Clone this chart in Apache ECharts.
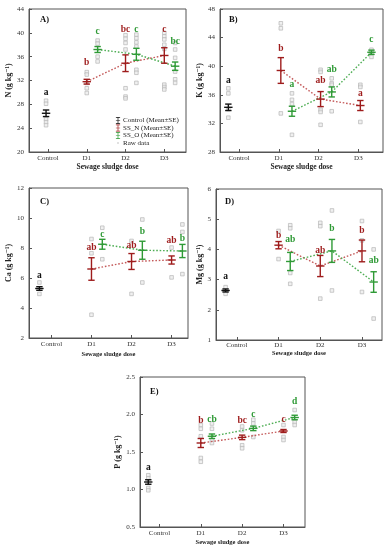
<!DOCTYPE html>
<html><head><meta charset="utf-8">
<script src="https://cdn.jsdelivr.net/npm/echarts@6/dist/echarts.min.js"></script>
<style>html,body{margin:0;padding:0;background:#fff}#c{width:386px;height:550px}</style>
</head><body><div id="c"></div>
<script>
// ---------- DATA ----------
const categories = ['Control', 'D1', 'D2', 'D3'];
const legendNames = ['Control (Mean±SE)', 'SS_N (Mean±SE)', 'SS_O (Mean±SE)', 'Raw data'];

// A) N
const nCtrlMean = [26.5], nCtrlSE = [0.55], nCtrlRaw = [28.6, 28.1, 25.5, 25.0, 24.5];
const nCtrlLetter = ['a'], nCtrlLetterY = [30.0];
const nSSNMean = [31.8, 34.9, 36.2], nSSNSE = [0.4, 1.4, 1.3];
const nSSNRaw = [[33.4, 33.0, 31.6, 30.7, 29.9], [39.6, 39.0, 38.3, 37.2, 30.7, 29.3, 29.0], [40.0, 39.4, 38.9, 38.0, 37.3, 31.3, 30.9, 30.5]];
const nSSNLetter = ['b', 'bc', 'c'], nSSNLetterY = [35.0, 40.6, 40.6];
const nSSOMean = [37.2, 36.4, 34.4], nSSOSE = [0.5, 1.0, 0.7];
const nSSORaw = [[38.7, 38.2, 36.0, 35.2], [39.7, 39.1, 38.4, 37.7, 33.8, 33.3, 31.6], [38.3, 37.2, 35.8, 33.5, 32.2, 31.6]];
const nSSOLetter = ['c', 'c', 'bc'], nSSOLetterY = [40.2, 40.6, 38.6];

// B) K
const kCtrlMean = [34.25], kCtrlSE = [0.45], kCtrlRaw = [36.9, 36.2, 34.0, 32.8];
const kCtrlLetter = ['a'], kCtrlLetterY = [38.0];
const kSSNMean = [39.4, 35.4, 34.5], kSSNSE = [1.8, 1.05, 0.7];
const kSSNRaw = [[46.0, 45.3, 33.4], [39.5, 39.2, 33.9, 33.6, 31.8], [37.4, 37.1, 32.2]];
const kSSNLetter = ['b', 'ab', 'a'], kSSNLetterY = [42.4, 38.0, 36.2];
const kSSOMean = [33.7, 36.4, 41.95], kSSOSE = [0.7, 0.7, 0.3];
const kSSORaw = [[36.2, 35.3, 34.7, 30.4], [38.3, 37.6, 37.4, 33.7], [42.3, 41.9, 41.3]];
const kSSOLetter = ['a', 'ab', 'c'], kSSOLetterY = [37.4, 39.5, 43.7];

// C) Ca
const caCtrlMean = [5.3], caCtrlSE = [0.12], caCtrlRaw = [5.7, 4.94];
const caCtrlLetter = ['a'], caCtrlLetterY = [6.15];
const caSSNMean = [6.6, 7.1, 7.2], caSSNSE = [0.75, 0.53, 0.27];
const caSSNRaw = [[8.6, 7.65, 3.55], [8.47, 4.94], [8.03, 6.04]];
const caSSNLetter = ['ab', 'ab', 'ab'], caSSNLetterY = [8.0, 8.18, 8.47];
const caSSOMean = [8.25, 7.85, 7.8], caSSOSE = [0.33, 0.6, 0.44];
const caSSORaw = [[9.35, 7.25], [9.9, 5.7], [9.57, 9.07, 6.26]];
const caSSOLetter = ['c', 'b', 'b'], caSSOLetterY = [8.9, 9.07, 8.62];

// D) Mg
const mgCtrlMean = [2.64], mgCtrlSE = [0.05], mgCtrlRaw = [2.75, 2.53];
const mgCtrlLetter = ['a'], mgCtrlLetterY = [3.11];
const mgSSNMean = [4.14, 3.45, 3.95], mgSSNSE = [0.12, 0.35, 0.36];
const mgSSNRaw = [[4.61, 3.68], [4.88, 4.77, 2.37], [4.94, 4.3, 2.59]];
const mgSSNLetter = ['b', 'ab', 'b'], mgSSNLetterY = [4.47, 3.95, 4.64];
const mgSSOMean = [3.6, 3.95, 2.92], mgSSOSE = [0.3, 0.38, 0.34];
const mgSSORaw = [[4.8, 4.7, 3.22, 2.86], [5.29, 2.64], [4.0, 1.71]];
const mgSSOLetter = ['ab', 'b', 'ab'], mgSSOLetterY = [4.34, 4.69, 3.63];

// E) P
const pCtrlMean = [1.1], pCtrlSE = [0.03], pCtrlRaw = [1.19, 1.15, 1.02, 0.99];
const pCtrlLetter = ['a'], pCtrlLetterY = [1.29];
const pSSNMean = [1.62, 1.695, 1.78], pSSNSE = [0.06, 0.03, 0.02];
const pSSNRaw = [[1.86, 1.81, 1.71, 1.42, 1.37], [1.84, 1.79, 1.59, 1.55], [1.86, 1.70, 1.66]];
const pSSNLetter = ['b', 'bc', 'c'], pSSNLetterY = [1.92, 1.92, 1.93];
const pSSOMean = [1.71, 1.815, 1.96], pSSOSE = [0.03, 0.03, 0.03];
const pSSORaw = [[1.88, 1.81, 1.66, 1.62], [1.93, 1.88, 1.70], [2.06, 1.90, 1.86]];
const pSSOLetter = ['cb', 'c', 'd'], pSSOLetterY = [1.93, 2.0, 2.17];

// ---------- STYLE / LAYOUT ----------
const FONT = '"Liberation Serif", "DejaVu Serif", serif';
const C_CTRL = '#111111', C_N = '#9e1c1c', C_O = '#2f9a36';
const C_NLINE = '#c45a5a', C_OLINE = '#4fae55';

const panels = [
  { tag: 'A)', tagPos: [35, 10], grid: { left: 29, top: 9, width: 157, height: 143 }, xMin: -0.49, xMax: 3.56,
    yMin: 20, yMax: 44, yInt: 4, dec: 0, yName: 'N (g kg⁻¹)', yGap: 14, xGap: 10, xNameSize: 7.5, xLabMargin: 3,
    off: [-0.05, 0, 0.28],
    d: [nCtrlMean, nCtrlSE, nCtrlRaw, nCtrlLetter, nCtrlLetterY, nSSNMean, nSSNSE, nSSNRaw, nSSNLetter, nSSNLetterY, nSSOMean, nSSOSE, nSSORaw, nSSOLetter, nSSOLetterY] },
  { tag: 'B)', tagPos: [224, 10], grid: { left: 220, top: 9, width: 163, height: 143 }, xMin: -0.48, xMax: 3.62,
    yMin: 28, yMax: 48, yInt: 4, dec: 0, yName: 'K (g kg⁻¹)', yGap: 11, xGap: 10, xNameSize: 7.5, xLabMargin: 3,
    off: [-0.27, 0.05, 0.33],
    d: [kCtrlMean, kCtrlSE, kCtrlRaw, kCtrlLetter, kCtrlLetterY, kSSNMean, kSSNSE, kSSNRaw, kSSNLetter, kSSNLetterY, kSSOMean, kSSOSE, kSSORaw, kSSOLetter, kSSOLetterY] },
  { tag: 'C)', tagPos: [35, 192], grid: { left: 29, top: 188, width: 159, height: 150 }, xMin: -0.56, xMax: 3.41,
    yMin: 2, yMax: 12, yInt: 2, dec: 0, yName: 'Ca (g kg⁻¹)', yGap: 14, xGap: 13, xNameSize: 6.5, xLabMargin: 3,
    off: [-0.3, 0, 0.27],
    d: [caCtrlMean, caCtrlSE, caCtrlRaw, caCtrlLetter, caCtrlLetterY, caSSNMean, caSSNSE, caSSNRaw, caSSNLetter, caSSNLetterY, caSSOMean, caSSOSE, caSSORaw, caSSOLetter, caSSOLetterY] },
  { tag: 'D)', tagPos: [220, 192], grid: { left: 216, top: 189, width: 166, height: 151 }, xMin: -0.5, xMax: 3.48,
    yMin: 1, yMax: 6, yInt: 1, dec: 0, yName: 'Mg (g kg⁻¹)', yGap: 9, xGap: 10, xNameSize: 6.5, xLabMargin: 2,
    off: [-0.27, 0, 0.28],
    d: [mgCtrlMean, mgCtrlSE, mgCtrlRaw, mgCtrlLetter, mgCtrlLetterY, mgSSNMean, mgSSNSE, mgSSNRaw, mgSSNLetter, mgSSNLetterY, mgSSOMean, mgSSOSE, mgSSORaw, mgSSOLetter, mgSSOLetterY] },
  { tag: 'E)', tagPos: [145, 382], grid: { left: 140, top: 377, width: 165, height: 150 }, xMin: -0.47, xMax: 3.52,
    yMin: 0.5, yMax: 2.5, yInt: 0.5, dec: 1, yName: 'P (g kg⁻¹)', yGap: 17, xGap: 12, xNameSize: 6.5, xLabMargin: 3,
    off: [-0.27, 0, 0.27],
    d: [pCtrlMean, pCtrlSE, pCtrlRaw, pCtrlLetter, pCtrlLetterY, pSSNMean, pSSNSE, pSSNRaw, pSSNLetter, pSSNLetterY, pSSOMean, pSSOSE, pSSORaw, pSSOLetter, pSSOLetterY] }
];

function errRender(color) {
  return function (params, api) {
    const x = api.value(0), m = api.value(1), se = api.value(2);
    const t = api.coord([x, m + se]), b = api.coord([x, m - se]), c = api.coord([x, m]);
    const hw = 3.2, mw = 4.2;
    const st = { stroke: color, lineWidth: 1.4 };
    return { type: 'group', children: [
      { type: 'line', shape: { x1: t[0], y1: t[1], x2: b[0], y2: b[1] }, style: st },
      { type: 'line', shape: { x1: t[0] - hw, y1: t[1], x2: t[0] + hw, y2: t[1] }, style: st },
      { type: 'line', shape: { x1: b[0] - hw, y1: b[1], x2: b[0] + hw, y2: b[1] }, style: st },
      { type: 'line', shape: { x1: c[0] - mw, y1: c[1], x2: c[0] + mw, y2: c[1] }, style: st }
    ] };
  };
}

const grids = [], xAxes = [], yAxes = [], series = [], titles = [];
panels.forEach((p, i) => {
  const [cM, cS, cR, cL, cLY, nM, nS, nR, nL, nLY, oM, oS, oR, oL, oLY] = p.d;
  const [cOff, nOff, oOff] = p.off;
  grids.push(Object.assign({ show: true, borderColor: '#555', borderWidth: 1 }, p.grid));
  xAxes.push({
    type: 'value', gridIndex: i, min: p.xMin, max: p.xMax,
    name: 'Sewage sludge dose', nameLocation: 'middle', nameGap: p.xGap,
    nameTextStyle: { fontFamily: FONT, fontWeight: 'bold', fontSize: p.xNameSize, color: '#222' },
    axisLine: { show: true, onZero: false, lineStyle: { color: '#555', width: 1 } },
    axisTick: { show: true, inside: true, length: 3, customValues: [0, 1, 2, 3], lineStyle: { color: '#555' } },
    axisLabel: { customValues: [0, 1, 2, 3], formatter: v => categories[Math.round(v)], fontFamily: FONT, fontSize: 7, color: '#333', margin: p.xLabMargin },
    splitLine: { show: false }
  });
  yAxes.push({
    type: 'value', gridIndex: i, min: p.yMin, max: p.yMax, interval: p.yInt,
    name: p.yName, nameLocation: 'middle', nameRotate: 90, nameGap: p.yGap,
    nameTextStyle: { fontFamily: FONT, fontWeight: 'bold', fontSize: 8, color: '#222' },
    axisLine: { show: true, onZero: false, lineStyle: { color: '#555', width: 1 } },
    axisTick: { show: true, inside: true, length: 3, lineStyle: { color: '#555' } },
    axisLabel: { formatter: v => v.toFixed(p.dec), fontFamily: FONT, fontSize: 7, color: '#333', margin: 5 },
    splitLine: { show: false }
  });
  titles.push({ text: p.tag, left: p.tagPos[0], top: p.tagPos[1], textStyle: { fontFamily: FONT, fontWeight: 'bold', fontSize: 8.5, color: '#111' } });

  // raw data
  const raw = [];
  cR.forEach(v => raw.push([cOff, v]));
  nR.forEach((arr, k) => arr.forEach(v => raw.push([k + 1 + nOff, v])));
  oR.forEach((arr, k) => arr.forEach(v => raw.push([k + 1 + oOff, v])));
  series.push({ type: 'scatter', name: 'Raw data', xAxisIndex: i, yAxisIndex: i, data: raw, symbol: 'rect', symbolSize: 3.6,
    itemStyle: { color: '#ececec', borderColor: '#b8b8b8', borderWidth: 0.9 }, z: 1, silent: true });

  // dotted trend lines
  series.push({ type: 'line', name: 'SS_N trend', xAxisIndex: i, yAxisIndex: i, data: nM.map((m, k) => [k + 1 + nOff, m]),
    symbol: 'none', lineStyle: { color: C_NLINE, width: 1.4, type: [1.6, 1.8] }, z: 2, silent: true });
  series.push({ type: 'line', name: 'SS_O trend', xAxisIndex: i, yAxisIndex: i, data: oM.map((m, k) => [k + 1 + oOff, m]),
    symbol: 'none', lineStyle: { color: C_OLINE, width: 1.4, type: [1.6, 1.8] }, z: 2, silent: true });

  // error bars
  series.push({ type: 'custom', name: legendNames[0], xAxisIndex: i, yAxisIndex: i, itemStyle: { color: C_CTRL },
    data: cM.map((m, k) => [cOff, m, cS[k]]), renderItem: errRender(C_CTRL), encode: { x: 0, y: 1 }, z: 3 });
  series.push({ type: 'custom', name: legendNames[1], xAxisIndex: i, yAxisIndex: i, itemStyle: { color: C_N },
    data: nM.map((m, k) => [k + 1 + nOff, m, nS[k]]), renderItem: errRender(C_N), encode: { x: 0, y: 1 }, z: 3 });
  series.push({ type: 'custom', name: legendNames[2], xAxisIndex: i, yAxisIndex: i, itemStyle: { color: C_O },
    data: oM.map((m, k) => [k + 1 + oOff, m, oS[k]]), renderItem: errRender(C_O), encode: { x: 0, y: 1 }, z: 3 });

  // significance letters
  const items = [];
  cL.forEach((t, k) => items.push([cOff, cLY[k], t, C_CTRL]));
  nL.forEach((t, k) => items.push([k + 1 + nOff, nLY[k], t, C_N]));
  oL.forEach((t, k) => items.push([k + 1 + oOff, oLY[k], t, C_O]));
  series.push({ type: 'custom', name: 'letters', xAxisIndex: i, yAxisIndex: i, silent: true, z: 4,
    data: items.map(it => [it[0], it[1]]), encode: { x: 0, y: 1 },
    renderItem: function (params, api) {
      const it = items[params.dataIndex];
      const pt = api.coord([it[0], it[1]]);
      return { type: 'text', x: pt[0], y: pt[1], style: { text: it[2], fill: it[3], font: 'bold 9.5px ' + FONT, align: 'center', verticalAlign: 'middle' } };
    } });
});

const ebIcon = 'path://M0,0 L6,0 L6,1 L3.5,1 L3.5,4.5 L6,4.5 L6,5.5 L3.5,5.5 L3.5,9 L6,9 L6,10 L0,10 L0,9 L2.5,9 L2.5,5.5 L0,5.5 L0,4.5 L2.5,4.5 L2.5,1 L0,1 Z';
const rawIcon = 'path://M0,0 L0.01,0 L0,0.01 Z M3.6,3.6 L6.4,3.6 L6.4,6.4 L3.6,6.4 Z M10,10 L9.99,10 L10,9.99 Z';

const option = {
  animation: false,
  backgroundColor: '#fff',
  title: titles,
  grid: grids, xAxis: xAxes, yAxis: yAxes, series: series,
  legend: {
    left: 110, top: 112, orient: 'vertical', itemGap: 0.5, itemWidth: 6, itemHeight: 7, selectedMode: false,
    textStyle: { fontFamily: FONT, fontSize: 7, color: '#222', padding: [0, 0, 0, -3] },
    data: [
      { name: legendNames[0], icon: ebIcon, itemStyle: { color: C_CTRL } },
      { name: legendNames[1], icon: ebIcon, itemStyle: { color: C_N } },
      { name: legendNames[2], icon: ebIcon, itemStyle: { color: C_O } },
      { name: legendNames[3], icon: rawIcon, itemStyle: { color: '#c4c4c4', borderWidth: 0 } }
    ]
  }
};
const chart = echarts.init(document.getElementById('c'), null, { renderer: 'canvas' });
chart.setOption(option);
</script></body></html>
